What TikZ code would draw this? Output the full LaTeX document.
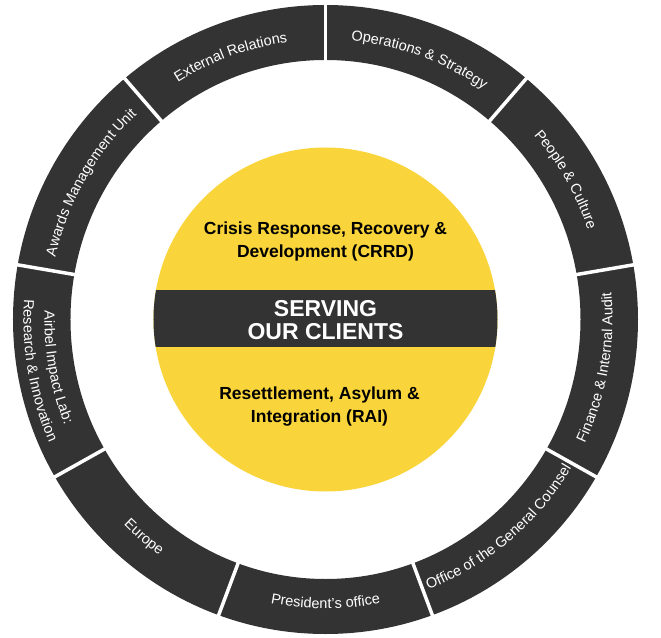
\documentclass[tikz,border=0pt]{standalone}
\usepackage{fontspec}
\setmainfont{Liberation Sans}
\usetikzlibrary{decorations.text}

\definecolor{ringgray}{RGB}{51,51,51}
\definecolor{ircyellow}{RGB}{249,212,58}
\newcommand{\deptfont}{\fontsize{14.5}{17}\selectfont\color{white}}

\tikzset{
  % unit name set along the ring
  dept/.style={decorate, decoration={text along path, text align=center, text={|\deptfont|#1}}},
  centrebox/.style={anchor=north, align=center, inner sep=0pt},
}

\begin{document}
\begin{tikzpicture}[x=1pt,y=1pt]
    \useasboundingbox (-325.5,-317.5) rectangle (335.5,319.5);

    % outer ring of units
    \fill[ringgray, even odd rule] (0,0) ellipse[x radius=312.5, y radius=314.5]
                                   (0,0) ellipse[x radius=255, y radius=259.5];
    \foreach \a in {10,50,...,330}
        \draw[white, line width=3.5] (\a:250 and 254) -- (\a:318 and 320);

    % centre disc
    \fill[ircyellow] (0,0) circle[radius=172];
    \begin{scope}
        \clip (0,0) circle[radius=172];
        \fill[ringgray] (-180,-27.5) rectangle (180,29.5);
    \end{scope}

    \node[centrebox, font=\bfseries\fontsize{17.5}{23}\selectfont] (crrd) at (0,97.5)
        {Crisis Response, Recovery \&\\Development (CRRD)};
    \node[centrebox, text=white, font=\bfseries\fontsize{23}{23}\selectfont] (serving) at (0,19.5)
        {SERVING\\OUR CLIENTS};
    \node[centrebox, font=\bfseries\fontsize{17.5}{23}\selectfont] (rai) at (-6,-67)
        {Resettlement, Asylum \&\\Integration (RAI)};

    % top half, read clockwise
    \path[dept={Operations {\&} Strategy}] (95:277 and 280) arc[start angle=95, end angle=45, x radius=277, y radius=280];
    \path[dept={External Relations}] (135:277 and 280) arc[start angle=135, end angle=85, x radius=277, y radius=280];
    \path[dept={Awards Management Unit}] (175:277 and 280) arc[start angle=175, end angle=125, x radius=277, y radius=280];
    \path[dept={People {\&} Culture}] (55:277 and 280) arc[start angle=55, end angle=5, x radius=277, y radius=280];

    % bottom half, read anticlockwise
    \path[dept={Airbel Impact Lab:}] (165:281 and 284) arc[start angle=165, end angle=215, x radius=281, y radius=284];
    \path[dept={Research {\&} Innovation}] (165:302 and 305) arc[start angle=165, end angle=215, x radius=302, y radius=305];
    \path[dept={Europe}] (205:287 and 289) arc[start angle=205, end angle=255, x radius=287, y radius=289];
    \path[dept={President{’}s office}] (245:287 and 289) arc[start angle=245, end angle=295, x radius=287, y radius=289];
    \path[dept={Office of the General Counsel}] (285:287 and 289) arc[start angle=285, end angle=335, x radius=287, y radius=289];
    \path[dept={Finance {\&} Internal Audit}] (325:287 and 289) arc[start angle=325, end angle=375, x radius=287, y radius=289];
\end{tikzpicture}
\end{document}
